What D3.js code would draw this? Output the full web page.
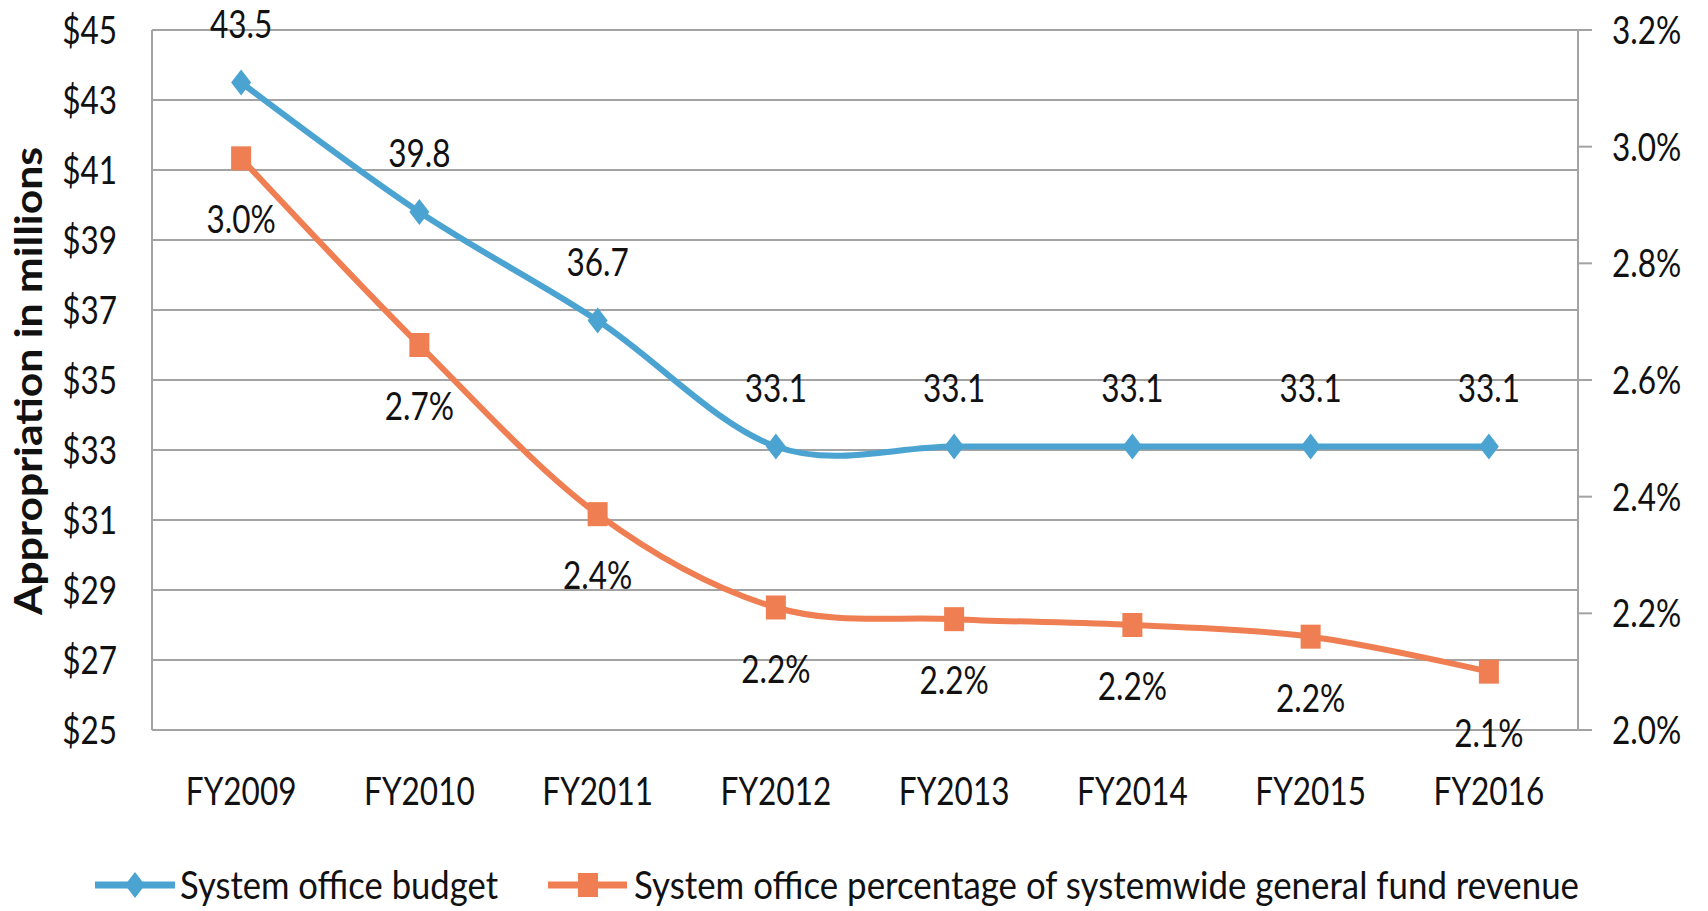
<!DOCTYPE html>
<html>
<head>
<meta charset="utf-8">
<script src="https://cdn.jsdelivr.net/npm/d3@7"></script>
<style>
  body { margin: 0; background: #fff; }
  text { font-family: Lato, "Open Sans", sans-serif; fill: #111; }
</style>
</head>
<body>
<div class="chart"></div>
<script>
// data
const years = ["FY2009", "FY2010", "FY2011", "FY2012", "FY2013", "FY2014", "FY2015", "FY2016"];
const budget = [43.5, 39.8, 36.7, 33.1, 33.1, 33.1, 33.1, 33.1];
const pctShare = [2.98, 2.66, 2.37, 2.21, 2.19, 2.18, 2.16, 2.10];
const leftTicks = [25, 27, 29, 31, 33, 35, 37, 39, 41, 43, 45];
const rightTicks = [2.0, 2.2, 2.4, 2.6, 2.8, 3.0, 3.2];
const seriesNames = ["System office budget", "System office percentage of systemwide general fund revenue"];

const svgWidth = 1708;
const svgHeight = 911;
const margin = {top: 30, right: 130, bottom: 181, left: 152};

const blue = "#4aa3d0";
const orange = "#ef7f52";
const grid = "#a3a3a3";
const SX = 0.83;   // text in the picture is narrow/tall
const FS = 38;

let svg = d3.select(".chart")
  .append("svg")
  .attr("width", svgWidth)
  .attr("height", svgHeight);

let x = d3.scalePoint()
  .domain(years)
  .range([margin.left, svgWidth - margin.right])
  .padding(0.5);

let yLeft = d3.scaleLinear()
  .domain([25, 45])
  .range([svgHeight - margin.bottom, margin.top]);

let yRight = d3.scaleLinear()
  .domain([2.0, 3.2])
  .range([svgHeight - margin.bottom, margin.top]);

const plotL = margin.left, plotR = svgWidth - margin.right;
const plotB = svgHeight - margin.bottom;

// helper: squeezed text
function label(sel, px, py, txt, anchor, weight) {
  let g = sel.append("g").attr("transform", `translate(${px},${py}) scale(${SX},1)`);
  g.append("text")
    .attr("text-anchor", anchor || "middle")
    .attr("font-size", FS)
    .attr("font-weight", weight || "normal")
    .text(txt);
  return g;
}

// squeeze/stretch a text so it spans a given width
function fitWidth(g, px, py, w, rot) {
  let len = g.select("text").node().getComputedTextLength();
  g.attr("transform", `translate(${px},${py})${rot ? " rotate(-90)" : ""} scale(${w / len},1)`);
}

// gridlines
svg.append("g")
  .selectAll("line")
  .data(leftTicks)
  .enter().append("line")
  .attr("x1", plotL).attr("x2", plotR)
  .attr("y1", d => yLeft(d)).attr("y2", d => yLeft(d))
  .attr("stroke", grid).attr("stroke-width", 2);

// axis lines
svg.append("line").attr("x1", plotL).attr("x2", plotL)
  .attr("y1", margin.top).attr("y2", plotB)
  .attr("stroke", grid).attr("stroke-width", 2);
svg.append("line").attr("x1", plotR).attr("x2", plotR)
  .attr("y1", margin.top).attr("y2", plotB)
  .attr("stroke", grid).attr("stroke-width", 2);

// right axis ticks
svg.append("g")
  .selectAll("line")
  .data(rightTicks)
  .enter().append("line")
  .attr("x1", plotR).attr("x2", plotR + 14)
  .attr("y1", d => yRight(d)).attr("y2", d => yRight(d))
  .attr("stroke", grid).attr("stroke-width", 2);

// tick labels
let axisText = svg.append("g");
leftTicks.forEach(t => label(axisText, 117, yLeft(t) + 14, "$" + t, "end"));
rightTicks.forEach(t => label(axisText, 1612, yRight(t) + 14, t.toFixed(1) + "%", "start"));
years.forEach(c => label(axisText, x(c), 805, c, "middle"));

// y title
let title = label(svg, 0, 0, "Appropriation in millions", "middle", "bold");
fitWidth(title, 42, 381, 468, true);

// lines
let budgetLine = d3.line()
  .x((d, i) => x(years[i]))
  .y(d => yLeft(d))
  .curve(d3.curveCardinal.tension(0));

let pctLine = d3.line()
  .x((d, i) => x(years[i]))
  .y(d => yRight(d))
  .curve(d3.curveCardinal.tension(0));

svg.append("path").attr("d", budgetLine(budget))
  .attr("fill", "none").attr("stroke", blue).attr("stroke-width", 6);
svg.append("path").attr("d", pctLine(pctShare))
  .attr("fill", "none").attr("stroke", orange).attr("stroke-width", 6);

const diamond = "M0,-13L10,0L0,13L-10,0Z";

svg.append("g").selectAll("path")
  .data(budget)
  .enter().append("path")
  .attr("d", diamond)
  .attr("transform", (d, i) => `translate(${x(years[i])},${yLeft(d)})`)
  .attr("fill", blue);

svg.append("g").selectAll("rect")
  .data(pctShare)
  .enter().append("rect")
  .attr("x", (d, i) => x(years[i]) - 10)
  .attr("y", d => yRight(d) - 12)
  .attr("width", 20).attr("height", 24)
  .attr("fill", orange);

// data labels
let dataText = svg.append("g");
budget.forEach((v, i) => label(dataText, x(years[i]), yLeft(v) - 45, v.toFixed(1), "middle"));
pctShare.forEach((v, i) => label(dataText, x(years[i]), yRight(v) + 75, v.toFixed(1) + "%", "middle"));

// legend
let legend = svg.append("g");
legend.append("line").attr("x1", 95).attr("x2", 175).attr("y1", 885).attr("y2", 885)
  .attr("stroke", blue).attr("stroke-width", 7);
legend.append("path").attr("d", diamond).attr("transform", "translate(135,885)").attr("fill", blue);
let leg1 = label(legend, 0, 0, seriesNames[0], "start");
fitWidth(leg1, 180, 899, 318);

legend.append("line").attr("x1", 548).attr("x2", 627).attr("y1", 885).attr("y2", 885)
  .attr("stroke", orange).attr("stroke-width", 7);
legend.append("rect").attr("x", 578).attr("y", 873).attr("width", 20).attr("height", 24).attr("fill", orange);
let leg2 = label(legend, 0, 0, seriesNames[1], "start");
fitWidth(leg2, 634, 899, 945);
</script>
</body>
</html>
